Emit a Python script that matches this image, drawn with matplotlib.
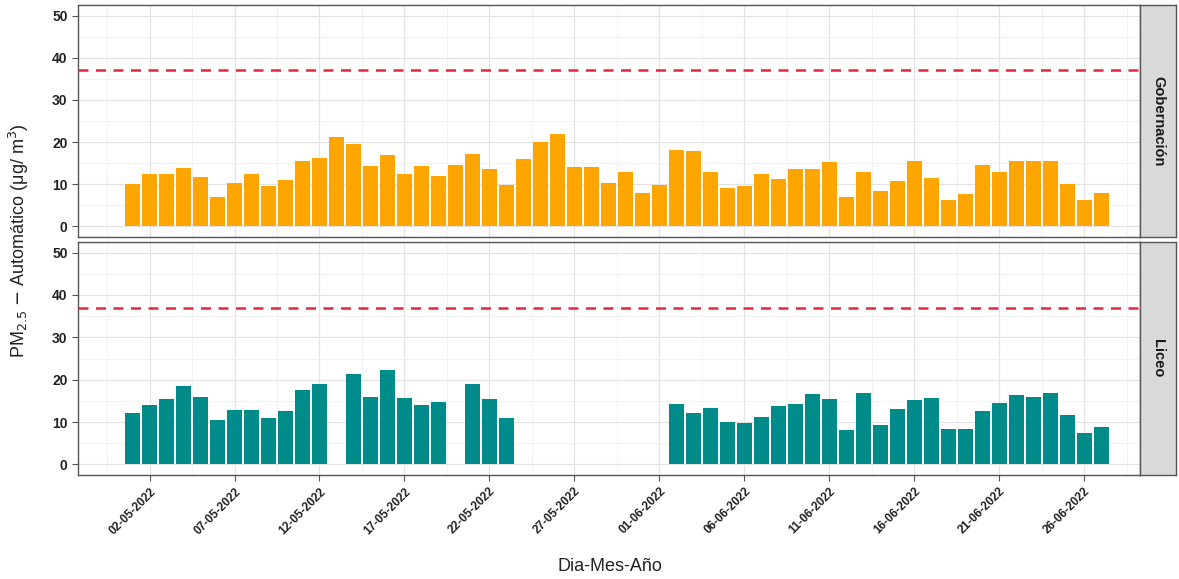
import matplotlib
matplotlib.use("Agg")
import matplotlib.pyplot as plt
import matplotlib.dates as mdates
import numpy as np
import pandas as pd

plt.rcParams['font.family'] = ['Liberation Sans', 'DejaVu Sans']

# daily PM2.5 values, 01-05-2022 .. 27-06-2022
dates = pd.date_range('2022-05-01', '2022-06-27', freq='D')

gobernacion = [10.0, 12.4, 12.4, 13.8, 11.8, 6.9, 10.4, 12.4, 9.7, 11.0,
               15.6, 16.2, 21.2, 19.5, 14.4, 16.9, 12.4, 14.4, 12.0, 14.5,
               17.1, 13.6, 9.8, 15.9, 20.0, 22.0, 14.0, 14.0, 10.4, 12.8,
               8.0, 9.8, 18.2, 17.9, 12.8, 9.1, 9.7, 12.4, 11.2, 13.6,
               13.6, 15.3, 7.0, 13.0, 8.3, 10.8, 15.6, 11.6, 6.2, 7.7,
               14.5, 12.8, 15.6, 15.6, 15.6, 10.0, 6.2, 8.0]

liceo = [12.2, 14.0, 15.4, 18.4, 15.9, 10.6, 12.8, 12.8, 10.9, 12.5,
         17.5, 19.0, None, 21.3, 15.9, 22.4, 15.7, 14.0, 14.8, None,
         18.9, 15.4, 10.9, None, None, None, None, None, None, None,
         None, None, 14.3, 12.2, 13.4, 10.1, 9.7, 11.3, 13.7, 14.3,
         16.6, 15.4, 8.1, 16.9, 9.3, 13.0, 15.3, 15.7, 8.4, 8.4,
         12.5, 14.6, 16.3, 15.9, 16.9, 11.7, 7.5, 8.9]

stations = ['Gobernación', 'Liceo']
colors = ['#FFA500', '#008B8B']
limit = 37

fig = plt.figure(figsize=(11.79, 5.79), dpi=100)

panels = [
    [0.0662, 0.5907, 0.9008, 0.4007],
    [0.0662, 0.1796, 0.9008, 0.4024],
]

major_ticks = pd.date_range('2022-05-02', '2022-06-26', freq='5D')
minor_ticks = major_ticks - pd.Timedelta(hours=60)
minor_ticks = minor_ticks.append(pd.DatetimeIndex([major_ticks[-1] + pd.Timedelta(hours=60)]))

xmin = dates[0] - pd.Timedelta(hours=77)
xmax = dates[-1] + pd.Timedelta(hours=55)

for i, (name, vals, col) in enumerate(zip(stations, [gobernacion, liceo], colors)):
    ax = fig.add_axes(panels[i])
    v = np.array([np.nan if x is None else x for x in vals], dtype=float)
    ok = ~np.isnan(v)
    ax.bar(dates[ok], v[ok], width=0.9, color=col, zorder=3)
    ax.axhline(limit, color='#E2283C', linestyle=(0, (4, 3)), linewidth=1.8, zorder=4)

    ax.set_ylim(-2.5, 52.5)
    ax.set_yticks([0, 10, 20, 30, 40, 50])
    ax.set_yticks([5, 15, 25, 35, 45], minor=True)
    ax.set_xlim(xmin, xmax)
    ax.set_xticks(major_ticks)
    ax.set_xticks(minor_ticks, minor=True)
    ax.xaxis.set_major_formatter(mdates.DateFormatter('%d-%m-%Y'))

    ax.grid(which='major', color='#E3E3E3', linewidth=0.9, zorder=0)
    ax.grid(which='minor', color='#F0F0F0', linewidth=0.6, zorder=0)
    ax.set_axisbelow(True)

    for s in ax.spines.values():
        s.set_color('#555555')
        s.set_linewidth(1.0)

    ax.tick_params(which='major', length=4, color='#555555', width=0.8)
    ax.tick_params(which='minor', length=0)
    for lab in ax.get_yticklabels():
        lab.set_fontweight('bold')
        lab.set_fontsize(10)
        lab.set_color('#222222')

    if i == 0:
        ax.tick_params(axis='x', which='both', labelbottom=False, length=0)
    else:
        for lab in ax.get_xticklabels():
            lab.set_rotation(45)
            lab.set_ha('right')
            lab.set_rotation_mode('anchor')
            lab.set_fontweight('bold')
            lab.set_fontsize(8.5)
            lab.set_color('#222222')

    # facet strip on the right
    l, b, w, h = panels[i]
    sax = fig.add_axes([l + w, b, 0.0305, h])
    sax.set_facecolor('#D9D9D9')
    sax.set_xticks([])
    sax.set_yticks([])
    for s in sax.spines.values():
        s.set_color('#555555')
        s.set_linewidth(1.0)
    sax.text(0.5, 0.5, name, rotation=-90, ha='center', va='center',
             fontsize=10.5, fontweight='bold', color='#1A1A1A', transform=sax.transAxes)

fig.text(0.016, 0.585, 'PM$_{2.5}$ $-$ Automático (μg/ m$^3$)', rotation=90,
         ha='center', va='center', fontsize=13, color='#222222')
fig.text(0.517, 0.022, 'Dia-Mes-Año', ha='center', va='center', fontsize=13, color='#222222')

fig.savefig('out.png', dpi=100)
